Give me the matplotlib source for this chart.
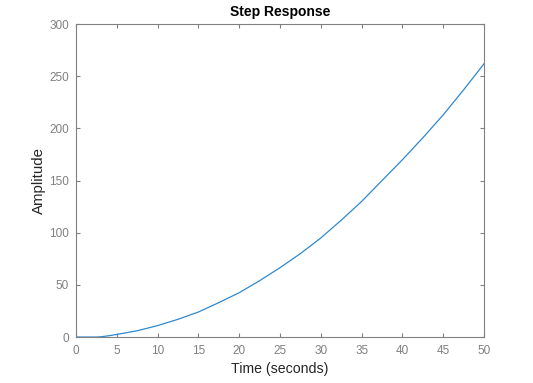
import matplotlib
matplotlib.use("Agg")
import matplotlib.pyplot as plt

# step response
time_s = [0, 2.5, 3.0, 4.0, 5, 7.5, 10, 12.5, 15, 17.5, 20, 22.5, 25, 27.5, 30,
          32.5, 35, 37.5, 40, 42.5, 45, 47.5, 50]
amplitude = [0, 0, 0.2, 1.2, 2.5, 6, 11, 17, 24, 33, 42.5, 54, 66.5, 80, 95,
             112, 130, 150, 170, 191, 213, 237, 262]

x_ticks = list(range(0, 51, 5))
y_ticks = list(range(0, 301, 50))

plt.rcParams['font.family'] = ['Liberation Sans', 'DejaVu Sans']

fig = plt.figure(figsize=(5.33, 3.83), dpi=100)
ax = fig.add_axes([0.1426, 0.120, 0.7655, 0.817])

ax.plot(time_s, amplitude, color='#2f88cf', linewidth=0.9)

ax.set_xlim(0, 50)
ax.set_ylim(0, 300)
ax.set_xticks(x_ticks)
ax.set_yticks(y_ticks)

grey = '#808080'
for s in ax.spines.values():
    s.set_color(grey)
    s.set_linewidth(0.8)
ax.tick_params(direction='in', top=True, right=True, colors=grey,
               labelsize=8.5, length=3, width=0.8)
ax.tick_params(axis='x', pad=6)
ax.tick_params(axis='y', pad=5)
for lbl in ax.get_xticklabels() + ax.get_yticklabels():
    lbl.set_color(grey)

ax.set_title('Step Response', fontsize=10, fontweight='bold', pad=6)
ax.set_xlabel('Time (seconds)', fontsize=10.2, color='#262626', labelpad=3)
ax.set_ylabel('Amplitude', fontsize=10.8, color='#262626', labelpad=2)

fig.savefig('out.png', dpi=100)
